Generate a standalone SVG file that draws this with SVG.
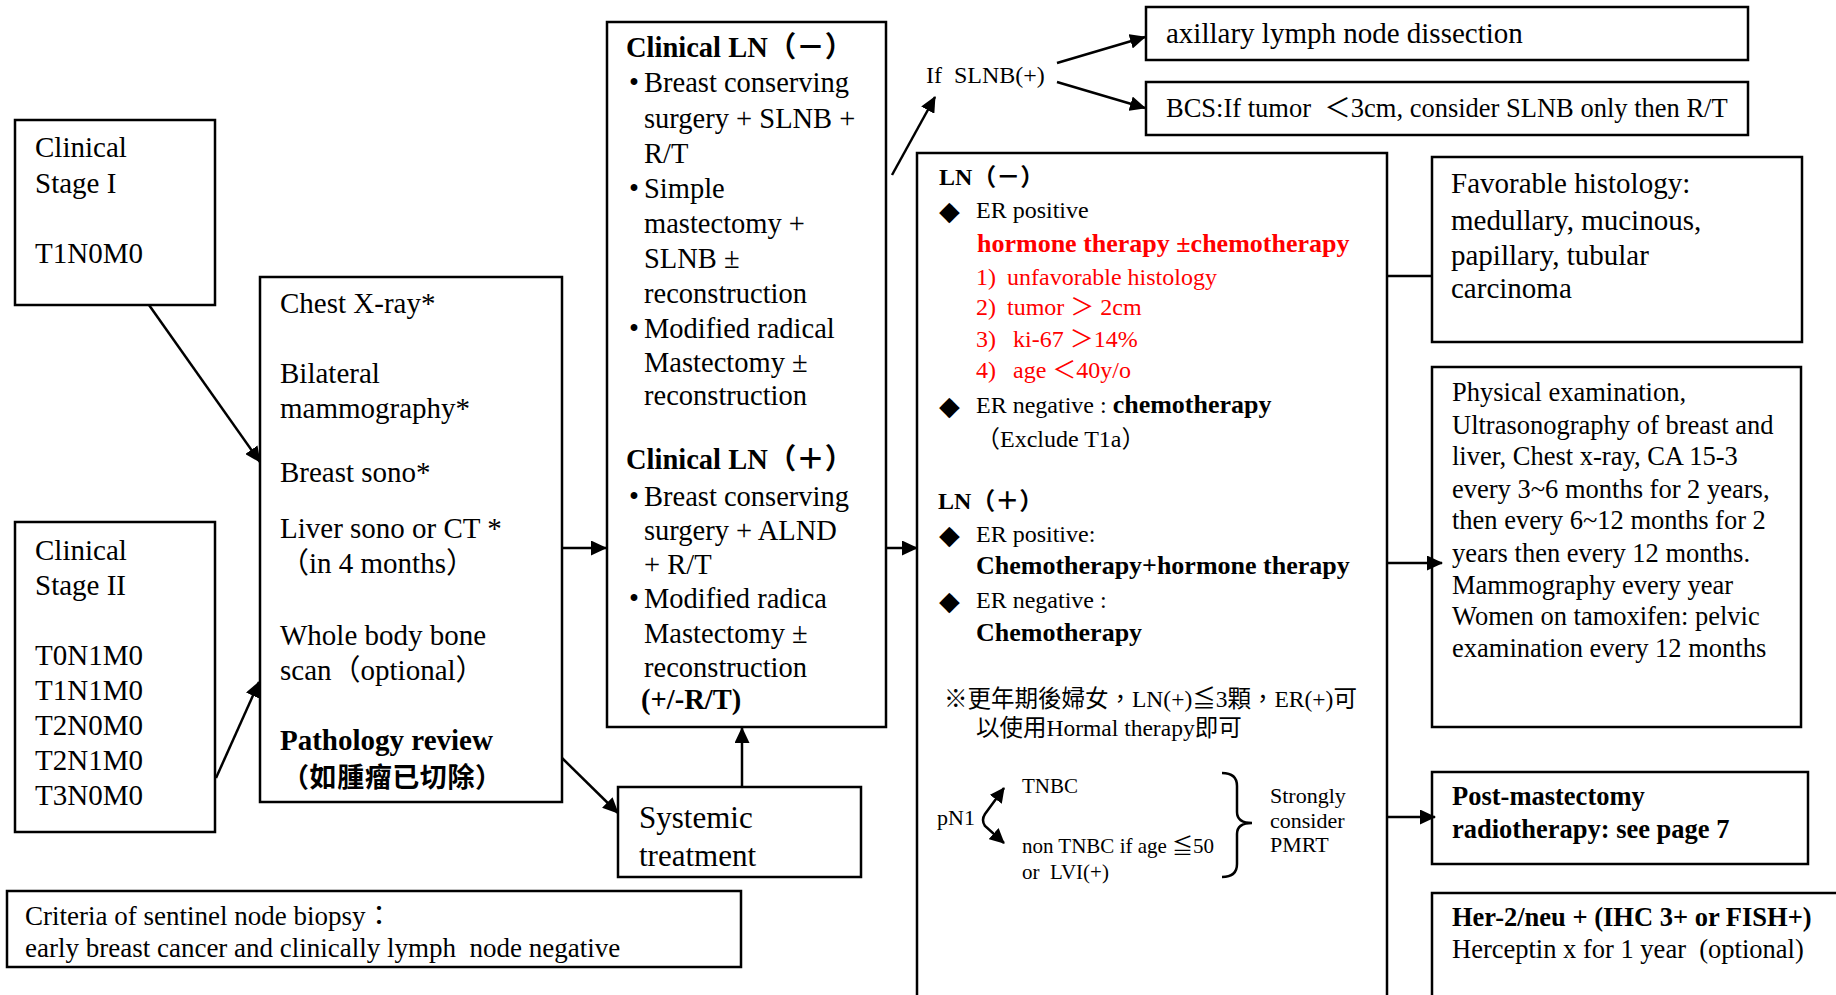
<svg xmlns="http://www.w3.org/2000/svg" width="1836" height="995" viewBox="0 0 1836 995">
<style>
.box{fill:#fff;stroke:#000;stroke-width:2.5}
.t{font-family:"Liberation Serif","Noto Sans CJK TC",serif;fill:#000}
.b{font-weight:bold}
.red{fill:#f00}
.s21{font-size:21px}.s22{font-size:22px}.s235{font-size:23.5px}.s24{font-size:24px}.s26{font-size:26px}.s265{font-size:26.5px}.s27{font-size:27px}.s28{font-size:28.5px}.s29{font-size:29px}.s31{font-size:31px}
.dia{font-family:"DejaVu Sans",sans-serif;font-size:27px;fill:#000}
.cjkb{font-family:"Noto Sans CJK TC",sans-serif;font-weight:bold;font-size:27px;fill:#000}
#connectors line,#connectors path{stroke:#000;stroke-width:2.5;fill:none}
</style>
<defs>
<marker id="ah" markerUnits="userSpaceOnUse" markerWidth="16" markerHeight="15" refX="15" refY="7.5" orient="auto"><path d="M0,0 L16,7.5 L0,15 z" fill="#000"/></marker>
<marker id="ahs" markerUnits="userSpaceOnUse" markerWidth="15" markerHeight="15" refX="14" refY="7.5" orient="auto-start-reverse"><path d="M0,0 L15,7.5 L0,15 z" fill="#000"/></marker>
</defs>
<rect width="1836" height="995" fill="#fff"/>

<g id="stage1">
<rect class="box" x="15" y="120" width="200" height="185"/>
<text class="t s29" x="35" y="157">Clinical</text>
<text class="t s29" x="35" y="193">Stage I</text>
<text class="t s29" x="35" y="263">T1N0M0</text>
</g>

<g id="stage2">
<rect class="box" x="15" y="522" width="200" height="310"/>
<text class="t s29" x="35" y="560">Clinical</text>
<text class="t s29" x="35" y="595">Stage II</text>
<text class="t s29" x="35" y="665">T0N1M0</text>
<text class="t s29" x="35" y="700">T1N1M0</text>
<text class="t s29" x="35" y="735">T2N0M0</text>
<text class="t s29" x="35" y="770">T2N1M0</text>
<text class="t s29" x="35" y="805">T3N0M0</text>
</g>

<g id="workup">
<rect class="box" x="260" y="277" width="302" height="525"/>
<text class="t s29" x="280" y="313">Chest X-ray*</text>
<text class="t s29" x="280" y="383">Bilateral</text>
<text class="t s29" x="280" y="418">mammography*</text>
<text class="t s29" x="280" y="482">Breast sono*</text>
<text class="t s29" x="280" y="538">Liver sono or CT *</text>
<text class="t s29" x="280" y="573">（in 4 months）</text>
<text class="t s29" x="280" y="645">Whole body bone</text>
<text class="t s29" x="280" y="680">scan（optional）</text>
<text class="t s29 b" x="280" y="750">Pathology review</text>
<text class="cjkb" x="282" y="787" textLength="220" lengthAdjust="spacing">（如腫瘤已切除）</text>
</g>

<g id="criteria">
<rect class="box" x="7" y="891" width="734" height="76"/>
<text class="t s27" x="25" y="925">Criteria of sentinel node biopsy：</text>
<text class="t s27" x="25" y="957">early breast cancer and clinically lymph&#160; node negative</text>
</g>

<g id="systemic">
<rect class="box" x="618" y="787" width="243" height="90"/>
<text class="t s31" x="639" y="828">Systemic</text>
<text class="t s31" x="639" y="866">treatment</text>
</g>

<g id="clinicalLN">
<rect class="box" x="607" y="22" width="279" height="705"/>
<text class="t s28 b" x="626" y="57">Clinical LN（－）</text>
<text class="t s28" x="629" y="92">•</text>
<text class="t s28" x="644" y="92">Breast conserving</text>
<text class="t s28" x="644" y="128">surgery + SLNB +</text>
<text class="t s28" x="644" y="163">R/T</text>
<text class="t s28" x="629" y="198">•</text>
<text class="t s28" x="644" y="198">Simple</text>
<text class="t s28" x="644" y="233">mastectomy +</text>
<text class="t s28" x="644" y="268">SLNB ±</text>
<text class="t s28" x="644" y="303">reconstruction</text>
<text class="t s28" x="629" y="338">•</text>
<text class="t s28" x="644" y="338">Modified radical</text>
<text class="t s28" x="644" y="372">Mastectomy ±</text>
<text class="t s28" x="644" y="405">reconstruction</text>
<text class="t s28 b" x="626" y="469">Clinical LN（＋）</text>
<text class="t s28" x="629" y="506">•</text>
<text class="t s28" x="644" y="506">Breast conserving</text>
<text class="t s28" x="644" y="540">surgery + ALND</text>
<text class="t s28" x="644" y="574">+ R/T</text>
<text class="t s28" x="629" y="608">•</text>
<text class="t s28" x="644" y="608">Modified radica</text>
<text class="t s28" x="644" y="643">Mastectomy ±</text>
<text class="t s28" x="644" y="677">reconstruction</text>
<text class="t s28 b" x="641" y="709">(+/-R/T)</text>
</g>

<g id="ifslnb">
<text class="t s24" x="926" y="83">If&#160; SLNB(+)</text>
</g>

<g id="axillary">
<rect class="box" x="1146" y="7" width="602" height="53"/>
<text class="t s29" x="1166" y="43">axillary lymph node dissection</text>
</g>

<g id="bcs">
<rect class="box" x="1146" y="82" width="602" height="53"/>
<text class="t s265" x="1166" y="117">BCS:If tumor&#160; ＜3cm, consider SLNB only then R/T</text>
</g>

<g id="mainbox">
<rect class="box" x="917" y="153" width="470" height="900"/>
<text class="t s24 b" x="939" y="185">LN（－）</text>
<text class="dia" x="939" y="220">◆</text>
<text class="t s24" x="976" y="218">ER positive</text>
<text class="t s26 b red" x="977" y="252">hormone therapy ±chemotherapy</text>
<text class="t s24 red" x="976" y="285">1)</text><text class="t s24 red" x="1007" y="285">unfavorable histology</text>
<text class="t s24 red" x="976" y="315">2)</text><text class="t s24 red" x="1007" y="315">tumor ＞ 2cm</text>
<text class="t s24 red" x="976" y="347">3)</text><text class="t s24 red" x="1013" y="347">ki-67 ＞14%</text>
<text class="t s24 red" x="976" y="378">4)</text><text class="t s24 red" x="1013" y="378">age ＜40y/o</text>
<text class="dia" x="939" y="415">◆</text>
<text class="t s24" x="976" y="413">ER negative : <tspan class="b s26">chemotherapy</tspan></text>
<text class="t s24" x="976" y="447">（Exclude T1a）</text>
<text class="t s24 b" x="938" y="509">LN（＋）</text>
<text class="dia" x="939" y="544">◆</text>
<text class="t s24" x="976" y="542">ER positive:</text>
<text class="t s26 b" x="976" y="574">Chemotherapy+hormone therapy</text>
<text class="dia" x="939" y="610">◆</text>
<text class="t s24" x="976" y="608">ER negative :</text>
<text class="t s26 b" x="976" y="641">Chemotherapy</text>
<text class="t s235" x="944" y="707">※更年期後婦女，LN(+)≦3顆，ER(+)可</text>
<text class="t s235" x="976" y="736">以使用Hormal therapy即可</text>
<text class="t s22" x="937" y="825">pN1</text>
<text class="t s21" x="1022" y="793">TNBC</text>
<text class="t s21" x="1022" y="853">non TNBC if age ≦50</text>
<text class="t s21" x="1022" y="879">or&#160; LVI(+)</text>
<path d="M1222,773 Q1237,773 1237,786 L1237,812 Q1237,823 1252,823 Q1237,823 1237,834 L1237,864 Q1237,877 1222,877" fill="none" stroke="#000" stroke-width="2.5"/>
<text class="t s22" x="1270" y="803">Strongly</text>
<text class="t s22" x="1270" y="828">consider</text>
<text class="t s22" x="1270" y="852">PMRT</text>
</g>

<g id="favorable">
<rect class="box" x="1432" y="157" width="370" height="185"/>
<text class="t s29" x="1451" y="193">Favorable histology:</text>
<text class="t s29" x="1451" y="230">medullary, mucinous,</text>
<text class="t s29" x="1451" y="265">papillary, tubular</text>
<text class="t s29" x="1451" y="298">carcinoma</text>
</g>

<g id="followup">
<rect class="box" x="1432" y="367" width="369" height="360"/>
<text class="t s265" x="1452" y="401">Physical examination,</text>
<text class="t s265" x="1452" y="434">Ultrasonography of breast and</text>
<text class="t s265" x="1452" y="465">liver, Chest x-ray, CA 15-3</text>
<text class="t s265" x="1452" y="498">every 3~6 months for 2 years,</text>
<text class="t s265" x="1452" y="529">then every 6~12 months for 2</text>
<text class="t s265" x="1452" y="562">years then every 12 months.</text>
<text class="t s265" x="1452" y="594">Mammography every year</text>
<text class="t s265" x="1452" y="625">Women on tamoxifen: pelvic</text>
<text class="t s265" x="1452" y="657">examination every 12 months</text>
</g>

<g id="pmrt">
<rect class="box" x="1432" y="772" width="376" height="92"/>
<text class="t s265 b" x="1452" y="805">Post-mastectomy</text>
<text class="t s265 b" x="1452" y="838">radiotherapy: see page 7</text>
</g>

<g id="her2">
<rect class="box" x="1432" y="893" width="500" height="200"/>
<text class="t s265 b" x="1452" y="926">Her-2/neu + (IHC 3+ or FISH+)</text>
<text class="t s265" x="1452" y="958">Herceptin x for 1 year&#160; (optional)</text>
</g>

<g id="connectors">
<line x1="149" y1="305" x2="260" y2="462" marker-end="url(#ah)"/>
<line x1="216" y1="778" x2="259" y2="682" marker-end="url(#ah)"/>
<line x1="562" y1="548" x2="606" y2="548" marker-end="url(#ah)"/>
<line x1="562" y1="758" x2="618" y2="813" marker-end="url(#ah)"/>
<line x1="742" y1="787" x2="742" y2="728" marker-end="url(#ah)"/>
<line x1="886" y1="548" x2="917" y2="548" marker-end="url(#ah)"/>
<line x1="892" y1="175" x2="935" y2="97" marker-end="url(#ah)"/>
<line x1="1057" y1="63" x2="1145" y2="37" marker-end="url(#ah)"/>
<line x1="1057" y1="82" x2="1145" y2="108" marker-end="url(#ah)"/>
<line x1="1387" y1="276" x2="1432" y2="276"/>
<line x1="1387" y1="563" x2="1442" y2="563" marker-end="url(#ah)"/>
<line x1="1387" y1="817" x2="1435" y2="817" marker-end="url(#ah)"/>
<path d="M1004,788 L985,814 Q981,820 985,826 L1004,843" marker-start="url(#ahs)" marker-end="url(#ahs)"/>
</g>
</svg>
